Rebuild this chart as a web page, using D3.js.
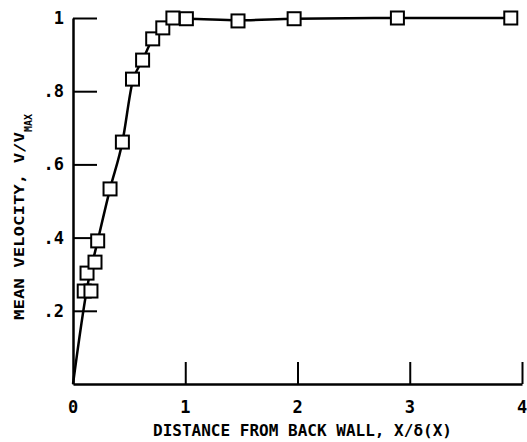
<!DOCTYPE html>
<html>
<head>
<meta charset="utf-8">
<script src="https://cdn.jsdelivr.net/npm/d3@7"></script>
<style>
  body { margin: 0; background: #fff; }
  text { font-family: "DejaVu Sans Mono", "Liberation Mono", monospace; font-weight: bold; fill: #000; }
</style>
</head>
<body>
<svg id="chart" width="527" height="442"></svg>
<script>
// measured points (x / delta, V / Vmax)
let ptX = [0.10, 0.16, 0.125, 0.196, 0.22, 0.33, 0.44, 0.53, 0.62, 0.71, 0.80, 0.89, 1.01, 1.47, 1.97, 2.89, 3.90];
let ptY = [0.254, 0.254, 0.303, 0.333, 0.391, 0.533, 0.661, 0.833, 0.885, 0.943, 0.973, 1.0, 0.998, 0.992, 0.998, 1.0, 1.0];

// faired curve through the data
let curveX = [0, 0.13, 0.22, 0.33, 0.44, 0.53, 0.62, 0.71, 0.80, 0.89, 1.01, 1.47, 1.97, 2.89, 3.90];
let curveY = [0, 0.27, 0.391, 0.533, 0.661, 0.825, 0.885, 0.943, 0.973, 0.998, 0.998, 0.994, 0.998, 1.0, 1.0];

let xTicks = [0, 1, 2, 3, 4];
let yTicks = [0.2, 0.4, 0.6, 0.8, 1];
let yTickLabels = [".2", ".4", ".6", ".8", "1"];

let svg = d3.select('#chart');
let x = d3.scaleLinear().domain([0, 4]).range([73, 522]);
let y = d3.scaleLinear().domain([0, 1]).range([384, 18]);

// axes
let xAxis = d3.axisBottom(x).tickValues(xTicks.slice(1)).tickSizeInner(-22).tickSizeOuter(0).tickFormat('');
let yAxis = d3.axisLeft(y).tickValues(yTicks).tickSizeInner(-24).tickSizeOuter(0).tickFormat('');

let gx = svg.append('g').attr('transform', 'translate(0,' + y(0) + ')').call(xAxis);
let gy = svg.append('g').attr('transform', 'translate(' + x(0) + ',0)').call(yAxis);
[gx, gy].forEach(function(g) {
  g.selectAll('path.domain').attr('stroke', '#000').attr('stroke-width', 2.5);
  g.selectAll('.tick line').attr('stroke', '#000').attr('stroke-width', 2);
});

svg.append('g').selectAll('text')
  .data(xTicks)
  .enter().append('text')
  .attr('x', function(d) { return x(d); })
  .attr('y', 413)
  .attr('text-anchor', 'middle')
  .attr('font-size', 17)
  .text(function(d) { return d; });

svg.append('g').selectAll('text')
  .data(yTicks)
  .enter().append('text')
  .attr('x', 64)
  .attr('y', function(d) { return y(d) + 6; })
  .attr('text-anchor', 'end')
  .attr('font-size', 17)
  .text(function(d, i) { return yTickLabels[i]; });

// curve
let line = d3.line()
  .x(function(d) { return x(d[0]); })
  .y(function(d) { return y(d[1]); })
  .curve(d3.curveMonotoneX);

svg.append('path')
  .datum(d3.zip(curveX, curveY))
  .attr('d', line)
  .attr('fill', 'none')
  .attr('stroke', '#000')
  .attr('stroke-width', 2.5);

// squares
let s = 13;
svg.append('g').selectAll('rect')
  .data(d3.zip(ptX, ptY))
  .enter().append('rect')
  .attr('x', function(d) { return x(d[0]) - s / 2; })
  .attr('y', function(d) { return y(d[1]) - s / 2; })
  .attr('width', s)
  .attr('height', s)
  .attr('fill', '#fff')
  .attr('stroke', '#000')
  .attr('stroke-width', 2);

// labels
svg.append('text')
  .attr('x', 153)
  .attr('y', 436)
  .attr('font-size', 15)
  .attr('textLength', 299)
  .attr('lengthAdjust', 'spacingAndGlyphs')
  .text('DISTANCE FROM BACK WALL, X/δ(X)');

let yl = svg.append('text')
  .attr('transform', 'translate(24,320) rotate(-90)')
  .attr('font-size', 14);
yl.append('tspan').attr('textLength', 188).attr('lengthAdjust', 'spacingAndGlyphs').text('MEAN VELOCITY, V/V');
yl.append('tspan').attr('font-size', 10).attr('dy', 8).text('MAX');
</script>
</body>
</html>
